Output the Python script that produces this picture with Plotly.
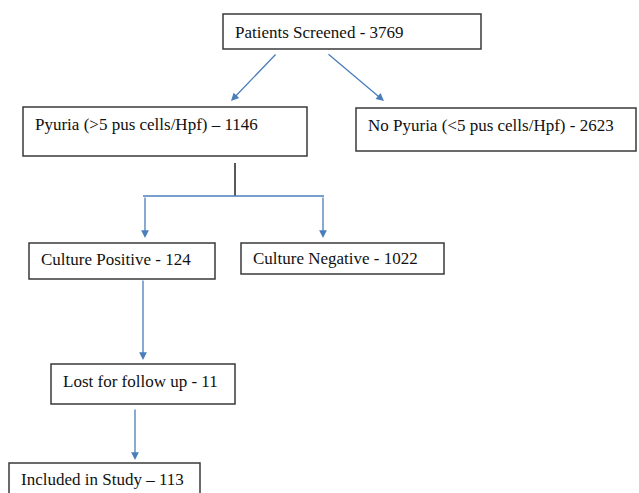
import plotly.graph_objects as go

# Data
labels = ["Patients Screened", "Pyuria (>5 pus cells/Hpf)", "No Pyuria (<5 pus cells/Hpf)",
          "Culture Positive", "Culture Negative", "Lost for follow up", "Included in Study"]
counts = [3769, 1146, 2623, 124, 1022, 11, 113]
separators = [" - ", " – ", " - ", " - ", " - ", " - ", " – "]

# Layout (pixel coordinates): x0, y0, x1, y1, text y
boxes = [
    (223, 14, 481, 49, 32),
    (23, 107, 307, 156, 124),
    (356, 108, 636, 151, 125),
    (29, 243, 215, 279, 259),
    (241, 243, 444, 274, 258),
    (51, 364, 235, 404, 381),
    (9, 463, 200, 510, 479),
]
arrows = [
    ((277, 53), (231, 101)),
    ((327, 53), (384, 101)),
    ((145, 196), (145, 238)),
    ((323, 196), (323, 238)),
    ((143, 279), (143, 360)),
    ((135, 408), (135, 460)),
]

W, H = 639, 493
fig = go.Figure()
fig.add_trace(go.Scatter(x=[100], y=[100], mode="markers", marker=dict(opacity=0), hoverinfo="skip", showlegend=False))

shapes = []
annotations = []
for (x0, y0, x1, y1, ty), lab, c, sep in zip(boxes, labels, counts, separators):
    shapes.append(dict(type="rect", xref="x", yref="y", x0=x0, y0=y0, x1=x1, y1=y1,
                       line=dict(color="#3a3a3a", width=1.5), fillcolor="white", layer="below"))
    annotations.append(dict(x=x0 + 10, y=ty, xref="x", yref="y", text=f"{lab}{sep}{c}",
                            showarrow=False, xanchor="left", yanchor="middle",
                            font=dict(family="Liberation Serif", size=17, color="#111")))

blue = "#4a7ebb"
shapes.append(dict(type="line", xref="x", yref="y", x0=235, y0=163, x1=235, y1=196,
                   line=dict(color="#222", width=1.5)))
shapes.append(dict(type="line", xref="x", yref="y", x0=143, y0=196, x1=324, y1=196,
                   line=dict(color=blue, width=1.5)))

for (sx, sy), (ex, ey) in arrows:
    annotations.append(dict(x=ex, y=ey, ax=sx, ay=sy, xref="x", yref="y", axref="x", ayref="y",
                            showarrow=True, arrowhead=2, arrowsize=1.2, arrowwidth=1.3,
                            arrowcolor=blue, text=""))

fig.update_layout(
    width=W, height=H, margin=dict(l=0, r=0, t=0, b=0),
    paper_bgcolor="white", plot_bgcolor="white",
    xaxis=dict(range=[0, W], visible=False, fixedrange=True),
    yaxis=dict(range=[H, 0], visible=False, fixedrange=True),
    shapes=shapes, annotations=annotations, showlegend=False,
)
fig.write_html("out.html", config={"displayModeBar": False},
               post_script="document.body.style.margin='0';document.body.style.overflow='hidden';")
